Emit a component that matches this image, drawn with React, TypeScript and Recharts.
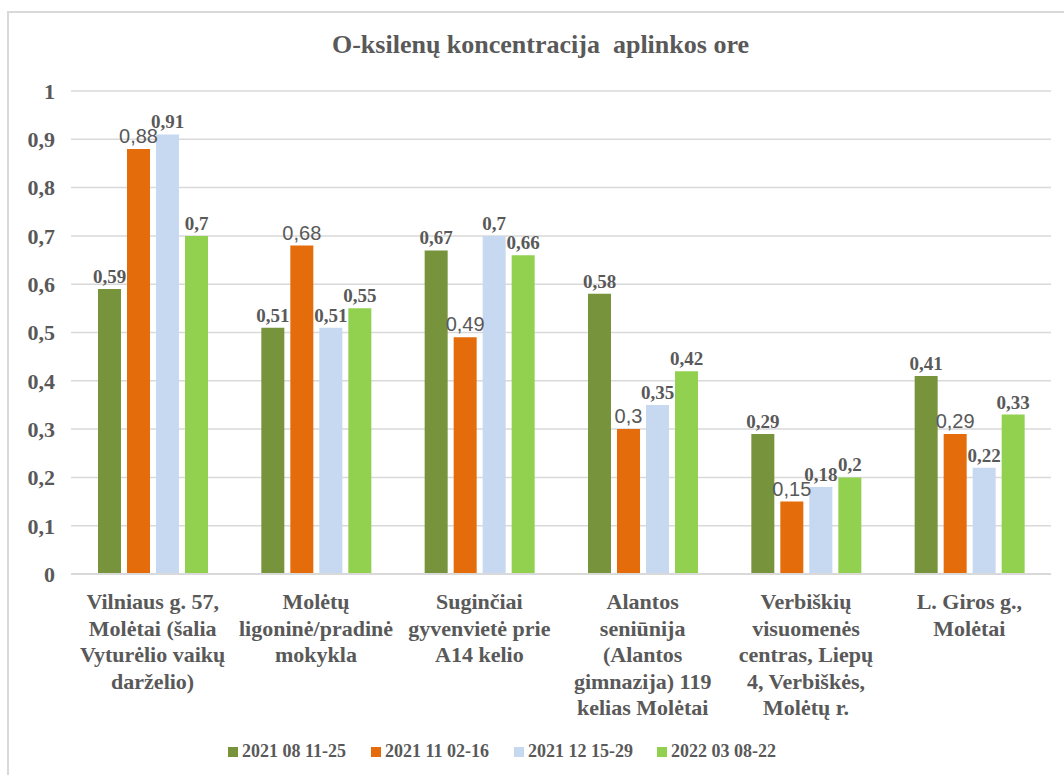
import { BarChart, Bar, XAxis, YAxis, CartesianGrid, LabelList } from 'recharts'

// vietos (kategorijos), eilutės atskirtos \n
const vietos = [
  'Vilniaus g. 57,\nMolėtai (šalia\nVyturėlio vaikų\ndarželio)',
  'Molėtų\nligoninė/pradinė\nmokykla',
  'Suginčiai\ngyvenvietė prie\nA14 kelio',
  'Alantos\nseniūnija\n(Alantos\ngimnazija) 119\nkelias Molėtai',
  'Verbiškių\nvisuomenės\ncentras, Liepų\n4, Verbiškės,\nMolėtų r.',
  'L. Giros g.,\nMolėtai',
]

const periodai = ['2021 08 11-25', '2021 11 02-16', '2021 12 15-29', '2022 03 08-22']

const rugpjutis = [0.59, 0.51, 0.67, 0.58, 0.29, 0.41]
const lapkritis = [0.88, 0.68, 0.49, 0.3, 0.15, 0.29]
const gruodis = [0.91, 0.51, 0.7, 0.35, 0.18, 0.22]
const kovas = [0.7, 0.55, 0.66, 0.42, 0.2, 0.33]

const yTicks = [0, 0.1, 0.2, 0.3, 0.4, 0.5, 0.6, 0.7, 0.8, 0.9, 1]

const SPALVOS = ['#77933c', '#e46c0a', '#c6d9f1', '#92d050']
const TEKSTAS = '#595959'
const SERIF = '"Liberation Serif", "Times New Roman", serif'
const SANS = '"Liberation Sans", Arial, sans-serif'

const serijos = [rugpjutis, lapkritis, gruodis, kovas]

const duomenys = vietos.map((vieta, i) => {
  const eil: Record<string, string | number> = { vieta }
  serijos.forEach((s, k) => {
    eil[`s${k}`] = s[i]
  })
  return eil
})

const kableliu = (v: number) => String(v).replace('.', ',')

// kategorijų pavadinimai keliomis eilutėmis
function VietosZyme({ x, y, payload }: any) {
  const eilutes = String(payload.value).split('\n')
  return (
    <text x={x} y={y + 27} textAnchor="middle" fill={TEKSTAS} fontFamily={SERIF} fontWeight="bold" fontSize={22}>
      {eilutes.map((e, i) => (
        <tspan key={i} x={x} dy={i === 0 ? 0 : 26.5}>
          {e}
        </tspan>
      ))}
    </text>
  )
}

export default function App() {
  return (
    <div style={{ position: 'absolute', left: 0, top: 0, width: 1064, height: 775, background: '#fff' }}>
      {/* rėmelis */}
      <div
        style={{
          position: 'absolute',
          left: 7,
          top: 11,
          width: 1070,
          height: 780,
          borderLeft: '2px solid #d9d9d9',
          borderTop: '2px solid #d9d9d9',
        }}
      />
      <div
        style={{
          position: 'absolute',
          left: 0,
          width: 1081,
          top: 30,
          textAlign: 'center',
          fontFamily: SERIF,
          fontWeight: 'bold',
          fontSize: 26,
          color: TEKSTAS,
          whiteSpace: 'pre',
        }}
      >
        O-ksilenų koncentracija  aplinkos ore
      </div>

      <div style={{ position: 'absolute', left: 0, top: 0 }}>
        <BarChart
          width={1064}
          height={775}
          data={duomenys}
          margin={{ top: 91, right: 13, left: 11, bottom: 51 }}
          barSize={23}
          barGap={6}
        >
          <CartesianGrid vertical={false} stroke="#d9d9d9" strokeWidth={1.5} />
          <XAxis
            dataKey="vieta"
            height={150}
            axisLine={{ stroke: '#d9d9d9', strokeWidth: 2 }}
            tickLine={false}
            interval={0}
            tick={<VietosZyme />}
          />
          <YAxis
            width={60}
            domain={[0, 1]}
            ticks={yTicks}
            axisLine={false}
            tickLine={false}
            tickMargin={10}
            tickFormatter={kableliu}
            tick={{ fill: TEKSTAS, fontFamily: SERIF, fontWeight: 'bold', fontSize: 22 }}
          />
          {periodai.map((p, k) => (
            <Bar key={p} dataKey={`s${k}`} name={p} fill={SPALVOS[k]} isAnimationActive={false}>
              <LabelList
                dataKey={`s${k}`}
                position="top"
                offset={6}
                formatter={(v: any) => kableliu(v)}
                fill={TEKSTAS}
                fontFamily={k === 1 ? SANS : SERIF}
                fontWeight={k === 1 ? 'normal' : 'bold'}
                fontSize={k === 1 ? 20 : 19}
              />
            </Bar>
          ))}
        </BarChart>
      </div>

      {/* legenda */}
      <div style={{ position: 'absolute', top: 741, left: 228, display: 'flex', fontFamily: SERIF, fontWeight: 'bold', fontSize: 18, color: TEKSTAS }}>
        {periodai.map((p, k) => (
          <div key={p} style={{ display: 'flex', alignItems: 'center', width: 143 }}>
            <span style={{ width: 10, height: 10, background: SPALVOS[k], marginRight: 4, display: 'inline-block' }} />
            {p}
          </div>
        ))}
      </div>
    </div>
  )
}
